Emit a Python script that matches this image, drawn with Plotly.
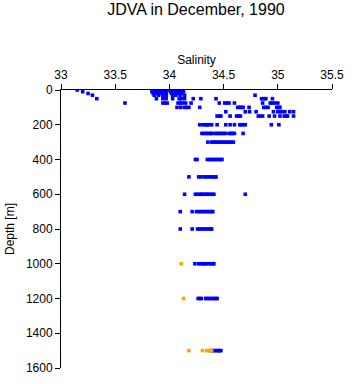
import plotly.graph_objects as go

# Depth levels [m]
depths = [0, 10, 20, 30, 50, 75, 100, 125, 150, 200, 250, 300, 400, 500, 600, 700, 800, 1000, 1200, 1500]

# Salinity values (blue series) per depth level
sal_0 = [33.15, 33.84, 33.86, 33.88, 33.90, 33.92, 33.94, 33.96, 33.98, 34.02, 34.04, 34.06, 34.08, 34.10, 34.12]
sal_10 = [33.20, 33.84, 33.87, 33.90, 33.93, 33.96, 34.01, 34.04, 34.07, 34.10, 34.13]
sal_20 = [33.25, 33.85, 33.88, 33.91, 33.94, 33.97, 34.02, 34.05, 34.08, 34.11]
sal_30 = [33.29, 33.86, 33.90, 33.94, 33.97, 34.03, 34.06, 34.10, 34.14, 34.79]
sal_50 = [33.33, 33.88, 33.94, 33.97, 34.03, 34.09, 34.11, 34.14, 34.22, 34.29, 34.43, 34.85, 34.87, 34.89, 34.95]
sal_75 = [33.59, 33.94, 33.96, 33.98, 34.08, 34.10, 34.12, 34.15, 34.20, 34.46, 34.51, 34.53, 34.55, 34.60,
          34.86, 34.93, 34.95, 34.97, 35.00]
sal_100 = [34.07, 34.105, 34.14, 34.16, 34.18, 34.28, 34.63, 34.65, 34.66, 34.68, 34.735, 34.87, 34.89, 34.91,
           34.99, 35.01, 35.02]
sal_125 = [34.52, 34.70, 34.74, 34.80, 34.96, 35.00, 35.02, 35.04, 35.065, 35.11, 35.145]
sal_150 = [34.44, 34.46, 34.475, 34.56, 34.62, 34.64, 34.655, 34.82, 34.84, 34.86, 34.92, 34.97, 35.02, 35.06,
           35.08, 35.09, 35.145]
sal_200 = [34.28, 34.31, 34.33, 34.35, 34.36, 34.39, 34.44, 34.52, 34.56, 34.60, 34.65, 34.66, 34.68, 34.70,
           34.94, 35.01]
sal_250 = [34.30, 34.32, 34.34, 34.36, 34.38, 34.39, 34.42, 34.44, 34.46, 34.48, 34.50, 34.515, 34.55, 34.57,
           34.58, 34.60, 34.68]
sal_300 = [34.355, 34.39, 34.41, 34.43, 34.45, 34.47, 34.49, 34.51, 34.53, 34.55, 34.57, 34.59]
sal_400 = [34.24, 34.255, 34.35, 34.37, 34.39, 34.41, 34.43, 34.45, 34.47, 34.485]
sal_500 = [34.18, 34.27, 34.29, 34.32, 34.34, 34.36, 34.38, 34.40, 34.42, 34.43]
sal_600 = [34.14, 34.24, 34.26, 34.28, 34.30, 34.31, 34.335, 34.35, 34.37, 34.39, 34.41, 34.70]
sal_700 = [34.10, 34.21, 34.25, 34.27, 34.29, 34.31, 34.33, 34.35, 34.37, 34.39, 34.40]
sal_800 = [34.10, 34.21, 34.26, 34.28, 34.30, 34.32, 34.34, 34.36, 34.38, 34.39]
sal_1000 = [34.235, 34.27, 34.29, 34.31, 34.32, 34.34, 34.36, 34.38, 34.40, 34.41]
sal_1200 = [34.265, 34.28, 34.295, 34.335, 34.35, 34.37, 34.39, 34.41, 34.43, 34.44]
sal_1500 = [34.39, 34.41, 34.43, 34.45, 34.46, 34.475]

blue_sal_by_depth = [sal_0, sal_10, sal_20, sal_30, sal_50, sal_75, sal_100, sal_125, sal_150, sal_200,
                     sal_250, sal_300, sal_400, sal_500, sal_600, sal_700, sal_800, sal_1000, sal_1200, sal_1500]

# Orange series
orange_depth = [1000, 1200, 1500, 1500, 1500, 1500, 1500, 1500]
orange_sal = [34.11, 34.13, 34.18, 34.305, 34.345, 34.36, 34.375, 34.39]

blue_x, blue_y = [], []
for d, vals in zip(depths, blue_sal_by_depth):
    for s in vals:
        blue_x.append(s)
        blue_y.append(d)

FONT = "Liberation Sans"

fig = go.Figure()
fig.add_trace(go.Scatter(x=blue_x, y=blue_y, mode="markers",
                         marker=dict(symbol="square", size=3.6, color="#0000ff", line=dict(width=0)),
                         showlegend=False, hoverinfo="x+y"))
fig.add_trace(go.Scatter(x=orange_sal, y=orange_depth, mode="markers",
                         marker=dict(symbol="square", size=3.6, color="#ffa500", line=dict(width=0)),
                         showlegend=False, hoverinfo="x+y"))

fig.update_layout(
    width=353, height=384,
    margin=dict(l=53, r=13, t=90, b=9, pad=0),
    paper_bgcolor="white", plot_bgcolor="white",
    font=dict(family=FONT, size=12, color="black"),
    title=dict(text="JDVA in December, 1990", x=0.555, xref="container", xanchor="center",
               y=1 - 9 / 384, yref="container", yanchor="middle",
               font=dict(family=FONT, size=16, color="black")),
    xaxis=dict(side="top", range=[33, 35.5], tickvals=[33, 33.5, 34, 34.5, 35, 35.5],
               ticktext=["33", "33.5", "34", "34.5", "35", "35.5"],
               showline=True, linecolor="black", linewidth=1, ticks="outside", ticklen=5,
               tickcolor="black", showgrid=False, zeroline=False,
               title=dict(text="Salinity", standoff=1, font=dict(size=12)),
               tickfont=dict(size=12)),
    yaxis=dict(range=[1600, 0], tickvals=[0, 200, 400, 600, 800, 1000, 1200, 1400, 1600],
               showline=True, linecolor="black", linewidth=1, ticks="outside", ticklen=5,
               tickcolor="black", showgrid=False, zeroline=False,
               title=dict(text="Depth [m]", standoff=8, font=dict(size=12)),
               tickfont=dict(size=12)),
)

fig.write_html("out.html")
